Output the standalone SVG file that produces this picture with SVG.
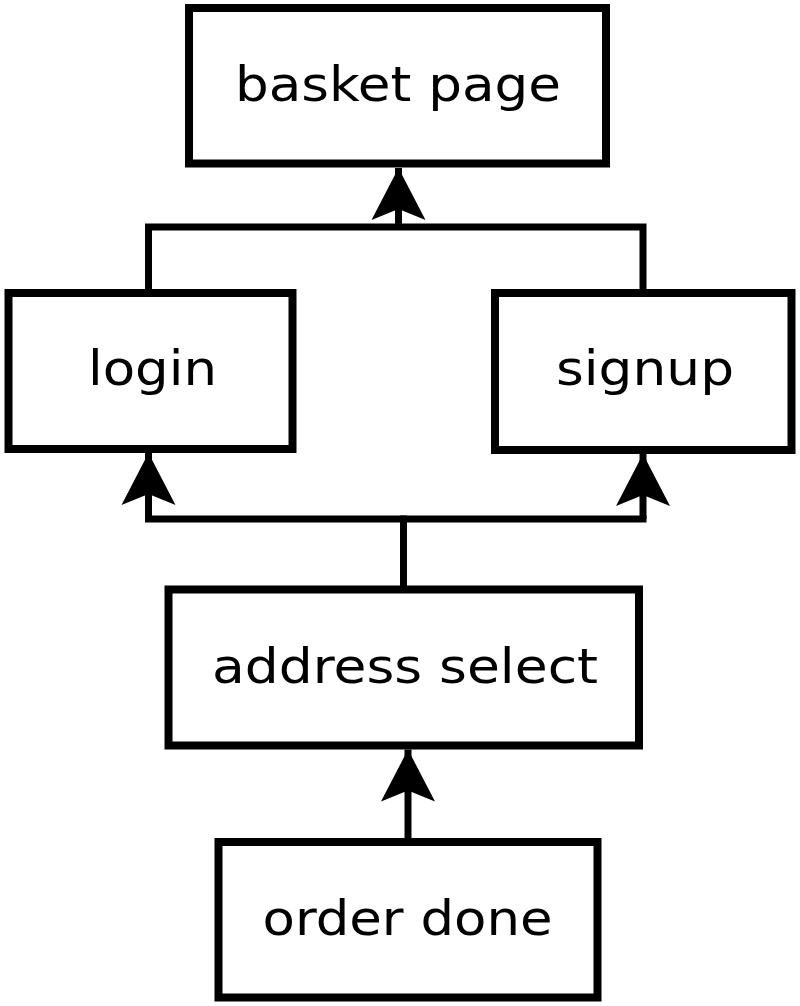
<svg xmlns="http://www.w3.org/2000/svg" width="800" height="1006" viewBox="0 0 800 1006">
  <style>
    .box { fill: #ffffff; stroke: #000000; stroke-width: 8; }
    .lbl { font-family: "DejaVu Sans", sans-serif; font-size: 48px; fill: #000000; text-anchor: middle; }
    .edge { fill: none; stroke: #000000; stroke-width: 7; stroke-linecap: square; stroke-linejoin: miter; }
    .arr { fill: none; stroke: #000000; stroke-width: 7; stroke-linecap: butt; marker-end: url(#head); }
  </style>
  <defs>
    <marker id="head" markerUnits="userSpaceOnUse" markerWidth="60" markerHeight="60" viewBox="0 -30 54 60" refX="52" refY="0" orient="auto">
      <path d="M52,0 L0,-27 L11,0 L0,27 Z" fill="#000000"/>
    </marker>
  </defs>
  <rect width="800" height="1006" fill="#ffffff"/>
  <g id="connectors">
    <path class="edge" d="M148.5,289 V227 H643 V289"/>
    <path class="arr" d="M398.5,227 V168"/>
    <path class="edge" d="M403.5,585 V519"/>
    <path class="edge" d="M148.5,519 H643"/>
    <path class="arr" d="M148.5,519 V453"/>
    <path class="arr" d="M643,519 V454"/>
    <path class="arr" d="M408,838 V749.5"/>
  </g>
  <g id="basket-page">
    <rect class="box" x="189" y="8" width="417" height="155.5"/>
    <text class="lbl" x="398" y="101" textLength="326" lengthAdjust="spacingAndGlyphs">basket page</text>
  </g>
  <g id="login">
    <rect class="box" x="8.5" y="293" width="284" height="156"/>
    <text class="lbl" x="152.5" y="385" textLength="129" lengthAdjust="spacingAndGlyphs">login</text>
  </g>
  <g id="signup">
    <rect class="box" x="495" y="293" width="296.5" height="157"/>
    <text class="lbl" x="645" y="385" textLength="178" lengthAdjust="spacingAndGlyphs">signup</text>
  </g>
  <g id="address-select">
    <rect class="box" x="168.5" y="589.5" width="470.5" height="156"/>
    <text class="lbl" x="405" y="683" textLength="386" lengthAdjust="spacingAndGlyphs">address select</text>
  </g>
  <g id="order-done">
    <rect class="box" x="218.5" y="842" width="379" height="155.5"/>
    <text class="lbl" x="407.5" y="935" textLength="290" lengthAdjust="spacingAndGlyphs">order done</text>
  </g>
</svg>
